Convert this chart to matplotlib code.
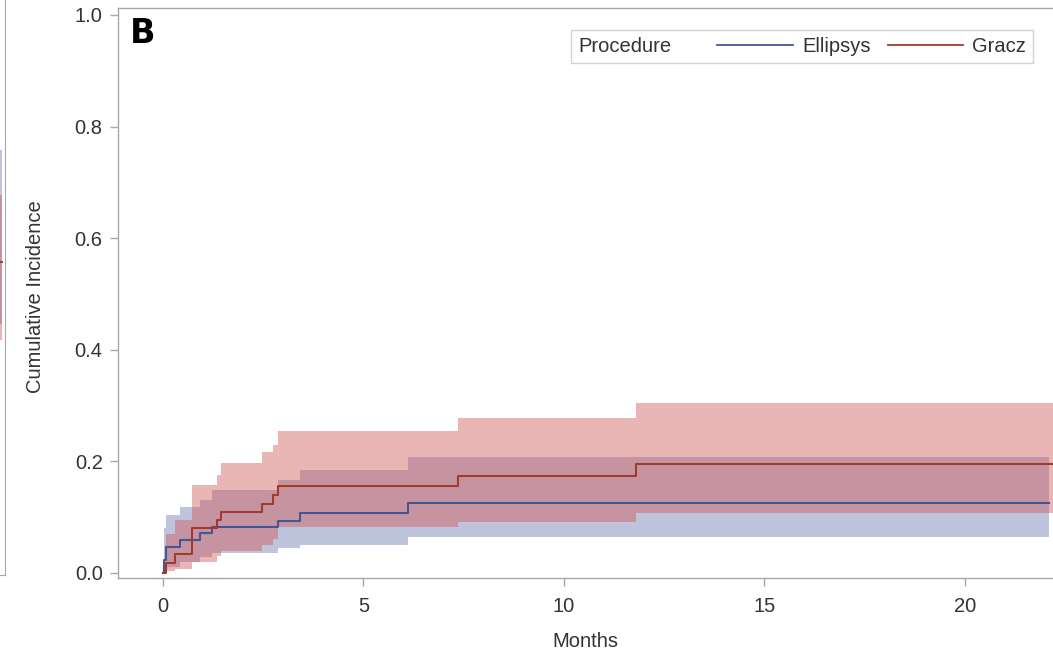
import matplotlib
matplotlib.use("Agg")
import matplotlib.pyplot as plt
from matplotlib.lines import Line2D
from matplotlib.offsetbox import HPacker

plt.rcParams['font.family'] = ['Liberation Sans', 'DejaVu Sans']

# ---------------- data ----------------
groups = ["Ellipsys", "Gracz"]
legend_title = "Procedure"

# Ellipsys cumulative incidence with 95% band (step function)
t_ellipsys = [0, 0.03, 0.08, 0.42, 0.92, 1.22, 2.87, 3.42, 6.1, 22.1]
ci_ellipsys = [0, 0.024, 0.047, 0.059, 0.072, 0.082, 0.093, 0.107, 0.125, 0.125]
lo_ellipsys = [0, 0.005, 0.010, 0.020, 0.028, 0.035, 0.045, 0.050, 0.064, 0.064]
hi_ellipsys = [0, 0.080, 0.104, 0.118, 0.130, 0.149, 0.167, 0.185, 0.208, 0.208]

# Gracz cumulative incidence with 95% band (step function)
t_gracz = [0, 0.08, 0.3, 0.72, 1.35, 1.45, 2.47, 2.75, 2.87, 7.36, 11.8, 22.4]
ci_gracz = [0, 0.017, 0.034, 0.080, 0.095, 0.110, 0.124, 0.140, 0.156, 0.174, 0.195, 0.195]
lo_gracz = [0, 0.003, 0.008, 0.020, 0.030, 0.040, 0.050, 0.060, 0.082, 0.091, 0.107, 0.107]
hi_gracz = [0, 0.070, 0.095, 0.158, 0.175, 0.197, 0.217, 0.230, 0.254, 0.278, 0.304, 0.304]

# visible edge of neighbouring panel A (cropped)
t_panelA = [20.0, 22.3]
ci_panelA_gracz = [0.561, 0.561]
lo_panelA_gracz = [0.421, 0.421]
hi_panelA_gracz = [0.681, 0.681]
lo_panelA_ellipsys = [0.45, 0.45]
hi_panelA_ellipsys = [0.762, 0.762]

x_ticks = [0, 5, 10, 15, 20]
y_ticks = [0.0, 0.2, 0.4, 0.6, 0.8, 1.0]
x_label = "Months"
y_label = "Cumulative Incidence"
panel_label = "B"

# ---------------- style ----------------
line_colors = ["#445694", "#A23A2E"]
band_colors = ["#6F7EB3", "#D05B5B"]
band_alpha = 0.45
spine_color = "#a8a8a8"
text_color = "#333333"
FS = 14.5

W, H = 1053, 654
fig = plt.figure(figsize=(W / 100, H / 100), dpi=100)

# main axes: frame left at px 118, bottom at px 578, top at px 8, right beyond edge
ax_left, ax_right, ax_top, ax_bot = 118, 1060, 8, 578
ax = fig.add_axes([ax_left / W, 1 - ax_bot / H, (ax_right - ax_left) / W, (ax_bot - ax_top) / H])

# neighbouring panel A fragment (right edge at px 5)
ax0 = fig.add_axes([(5 - (ax_right - ax_left)) / W, 1 - 575 / H,
                    (ax_right - ax_left) / W, (575 + 120) / H])
ax0.set_xlim(-1.12, 22.37)
ax0.set_ylim(0, (575 + 120) / 558)
ax0.fill_between(t_panelA, lo_panelA_ellipsys, hi_panelA_ellipsys, step='post',
                 color=band_colors[0], alpha=band_alpha, linewidth=0)
ax0.fill_between(t_panelA, lo_panelA_gracz, hi_panelA_gracz, step='post',
                 color=band_colors[1], alpha=band_alpha, linewidth=0)
ax0.step(t_panelA, ci_panelA_gracz, where='post', color=line_colors[1], lw=1.4)
ax0.set_xticks([]); ax0.set_yticks([])
for s in ['top', 'left']:
    ax0.spines[s].set_visible(False)
for s in ['right', 'bottom']:
    ax0.spines[s].set_color(spine_color)

series = [
    (t_ellipsys, ci_ellipsys, lo_ellipsys, hi_ellipsys),
    (t_gracz, ci_gracz, lo_gracz, hi_gracz),
]
for (t, ci, lo, hi), bc in zip(series, band_colors):
    ax.fill_between(t, lo, hi, step='post', color=bc, alpha=band_alpha, linewidth=0)
handles = []
for (t, ci, lo, hi), lc, name in zip(series, line_colors, groups):
    ln, = ax.step(t, ci, where='post', color=lc, lw=1.5, label=name)
    handles.append(Line2D([], [], color=lc, lw=1.3))

ax.set_xlim(-1.12, 22.37)
ax.set_ylim(-0.009, 1.0125)
ax.set_xticks(x_ticks)
ax.set_yticks(y_ticks)
ax.set_yticklabels([f"{v:.1f}" for v in y_ticks])
ax.tick_params(axis='both', direction='out', length=6, width=1, color=spine_color,
               labelsize=FS, labelcolor=text_color)
ax.tick_params(axis='x', pad=8)
ax.tick_params(axis='y', pad=5)
for s in ax.spines.values():
    s.set_color(spine_color)
    s.set_linewidth(1)

ax.set_xlabel(x_label, fontsize=FS, color=text_color)
ax.set_ylabel(y_label, fontsize=FS, color=text_color)
ax.yaxis.set_label_coords((45 - ax_left) / (ax_right - ax_left), (ax_bot - 297) / (ax_bot - ax_top))
ax.xaxis.set_label_coords((585 - ax_left) / (ax_right - ax_left), (ax_bot - 632) / (ax_bot - ax_top))

ax.text((130 - ax_left) / (ax_right - ax_left), (ax_bot - 17) / (ax_bot - ax_top), panel_label,
        transform=ax.transAxes, fontsize=24, fontweight='bold', ha='left', va='top',
        family=['DejaVu Sans'], color='black')

leg = ax.legend(handles, groups, title=legend_title, ncol=2, fontsize=FS, title_fontsize=FS,
                loc='upper right', bbox_to_anchor=(1033 / W, 1 - 30 / H),
                bbox_transform=fig.transFigure, borderaxespad=0, frameon=True,
                fancybox=False, edgecolor='#c8c8c8', handlelength=3.75,
                handletextpad=0.45, columnspacing=0.85, borderpad=0.2)
leg.get_frame().set_linewidth(1)
for txt in leg.get_texts():
    txt.set_color(text_color)
leg.get_title().set_color(text_color)
try:
    newbox = HPacker(pad=0, sep=33, align='center',
                     children=[leg._legend_title_box, leg._legend_handle_box])
    from matplotlib.offsetbox import PaddedBox  # noqa
    # keep a small horizontal/vertical pad via a wrapper HPacker
    outer = HPacker(pad=5, sep=0, align='center', children=[newbox])
    outer.set_figure(fig)
    outer.axes = ax
    outer.set_offset(leg._findoffset)
    leg._legend_box = outer
except Exception:
    pass

fig.savefig("out.png", dpi=100)
